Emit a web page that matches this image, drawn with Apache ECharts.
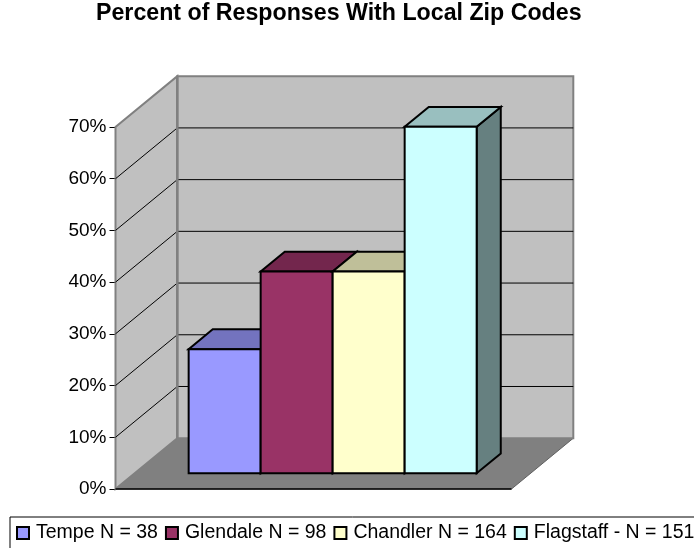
<!DOCTYPE html>
<html>
<head>
<meta charset="utf-8">
<script src="https://cdn.jsdelivr.net/npm/echarts@6/dist/echarts.min.js"></script>
<style>
  html, body { margin: 0; padding: 0; background: #fff; }
  #chart { width: 694px; height: 548px; }
</style>
</head>
<body>
<div id="chart"></div>
<script>
const cities = ['Tempe N = 38', 'Glendale N = 98', 'Chandler N = 164', 'Flagstaff - N = 151']
const percents = [24, 39, 39, 67]
const yTicks = [0, 10, 20, 30, 40, 50, 60, 70]

const frontColors = ['#9999ff', '#993366', '#ffffcc', '#ccffff']
const topColors = ['#7373bf', '#73264d', '#bfbf99', '#99bfbf']
const sideColors = ['#4d4d80', '#4d1a33', '#808066', '#668080']

const FONT = 'Liberation Sans, Arial, sans-serif'
// depth of the box in pixels, and where the bars sit within it
const DX = 61.8, DY = 50.8
const Z0 = 0.31, Z1 = 0.70
const GAP = 0.75, XMAX = 5.5

let chart = echarts.init(document.getElementById('chart'))

function shift(p, z) {
    return [p[0] + z * DX, p[1] - z * DY]
}

function poly(points, fill, stroke, lw) {
    return {
        type: 'polygon',
        shape: { points },
        style: { fill, stroke, lineWidth: lw }
    }
}

function renderWalls(params, api) {
    let top = yTicks[yTicks.length - 1]
    let fl = api.coord([0, 0]), fr = api.coord([XMAX, 0])
    let tl = api.coord([0, top])
    let children = []
    // floor
    children.push(poly([fl, fr, shift(fr, 1), shift(fl, 1)], '#808080', '#606060', 1))
    // side wall
    children.push(poly([fl, shift(fl, 1), shift(tl, 1), tl], '#c0c0c0', '#808080', 2))
    // back wall
    children.push(poly([shift(fl, 1), shift(fr, 1), shift(api.coord([XMAX, top]), 1), shift(tl, 1)], '#c0c0c0', '#808080', 2))
    // gridlines
    yTicks.slice(1, -1).forEach(v => {
        let a = api.coord([0, v]), b = api.coord([XMAX, v])
        children.push({ type: 'line', shape: { x1: a[0], y1: a[1], x2: shift(a, 1)[0], y2: shift(a, 1)[1] }, style: { stroke: '#000', lineWidth: 1 } })
        children.push({ type: 'line', shape: { x1: shift(a, 1)[0], y1: shift(a, 1)[1], x2: shift(b, 1)[0], y2: shift(b, 1)[1] }, style: { stroke: '#000', lineWidth: 1 } })
    })
    // redraw back wall left edge over gridlines
    let bl = shift(fl, 1), btl = shift(tl, 1)
    children.push({ type: 'line', shape: { x1: bl[0], y1: bl[1], x2: btl[0], y2: btl[1] }, style: { stroke: '#808080', lineWidth: 2.5 } })
    children.push({ type: 'line', shape: { x1: fl[0], y1: fl[1], x2: fr[0], y2: fr[1] }, style: { stroke: '#000', lineWidth: 1.5 } })
    return { type: 'group', children }
}

function makeBarRender(i) {
    return function (params, api) {
        let x0 = GAP + i, x1 = x0 + 1
        let v = api.value(1)
        let b0 = api.coord([x0, 0]), b1 = api.coord([x1, 0])
        let t0 = api.coord([x0, v]), t1 = api.coord([x1, v])
        let front = [shift(t0, Z0), shift(t1, Z0), shift(b1, Z0), shift(b0, Z0)]
        let topFace = [shift(t0, Z0), shift(t1, Z0), shift(t1, Z1), shift(t0, Z1)]
        let side = [shift(t1, Z0), shift(t1, Z1), shift(b1, Z1), shift(b1, Z0)]
        return {
            type: 'group',
            children: [
                poly(side, sideColors[i], '#000', 2),
                poly(topFace, topColors[i], '#000', 2),
                poly(front, frontColors[i], '#000', 2)
            ]
        }
    }
}

let series = [{
    type: 'custom',
    name: 'walls',
    data: [[0, 0]],
    renderItem: renderWalls,
    silent: true
}]

cities.forEach((name, i) => {
    series.push({
        type: 'custom',
        name,
        data: [[i, percents[i]]],
        itemStyle: { color: frontColors[i], borderColor: '#000', borderWidth: 1.5 },
        renderItem: makeBarRender(i)
    })
})

chart.setOption({
    animation: false,
    backgroundColor: '#fff',
    title: {
        text: 'Percent of Responses With Local Zip Codes',
        left: 96,
        top: 2,
        padding: 0,
        textStyle: { fontFamily: FONT, fontSize: 23.2, fontWeight: 'bold', color: '#000' }
    },
    legend: {
        data: cities,
        left: 10,
        top: 517,
        width: 760,
        padding: [6, 6, 6, 6],
        itemGap: 7,
        itemWidth: 12,
        itemHeight: 12,
        icon: 'rect',
        borderColor: '#000',
        borderWidth: 1,
        borderRadius: 0,
        textStyle: { fontFamily: FONT, fontSize: 19.5, color: '#000', padding: [0, 0, 0, 2] }
    },
    grid: { left: 115.5, top: 127, width: 396, height: 362 },
    xAxis: { type: 'value', min: 0, max: XMAX, show: false },
    yAxis: {
        type: 'value',
        min: 0,
        max: 70,
        interval: 10,
        axisLine: { show: true, lineStyle: { color: '#000', width: 1 } },
        axisTick: { show: true, length: 6, lineStyle: { color: '#000' } },
        axisLabel: { formatter: '{value}%', fontFamily: FONT, fontSize: 19, color: '#000', margin: 9 },
        splitLine: { show: false }
    },
    series
})
</script>
</body>
</html>
